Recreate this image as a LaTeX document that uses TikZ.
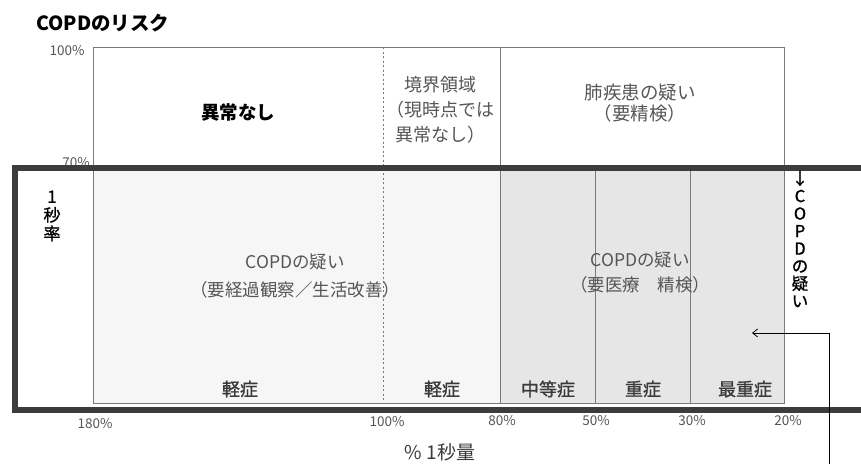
\documentclass[tikz,border=0pt]{standalone}
\usepackage{fontspec}
\setmainfont{Noto Sans CJK JP}
\newfontfamily\medfont{Noto Sans CJK JP}[FakeBold=1.2]
\usetikzlibrary{arrows.meta}
\definecolor{gridc}{HTML}{7A7A7A}
\definecolor{txtg}{HTML}{555555}
\definecolor{txtd}{HTML}{3A3A3A}
\definecolor{thickc}{HTML}{3C3C3C}
\definecolor{shadeR}{HTML}{E6E6E6}
\definecolor{shadeL}{HTML}{F6F6F6}
\tikzset{
  gridline/.style={draw=gridc, line width=0.9pt},
  dashline/.style={draw=gridc, line width=0.9pt, dash pattern=on 2pt off 2.5pt},
  lab/.style={text=txtg, font=\fontsize{18}{22}\selectfont, align=center, inner sep=0pt},
  sev/.style={text=txtd, font=\medfont\fontsize{18}{20}\selectfont, inner sep=0pt},
  axl/.style={text=txtg, font=\fontsize{13.5}{15}\selectfont, inner sep=0pt},
  boldlab/.style={text=black, font=\fontsize{18.5}{20}\selectfont\bfseries, inner sep=0pt},
  vtext/.style={text=black, align=center, inner sep=0pt},
  conn/.style={draw=black, line width=0.8pt, -{Straight Barb[length=5pt,width=8pt]}},
}
\begin{document}
\begin{tikzpicture}[x=1pt,y=-1pt]
\useasboundingbox (0,0) rectangle (861,463);
\clip (0,0) rectangle (861,463);
% shading
\fill[shadeL] (93,168) rectangle (500,403);
\fill[shadeR] (500,168) rectangle (784,403);
% chart frame
\draw[gridline] (93,47) rectangle (784,403);
\draw[dashline] (383,47) -- (383,403);
\draw[gridline] (500,47) -- (500,403);
\draw[gridline] (595,168) -- (595,403);
\draw[gridline] (690,168) -- (690,403);
% y labels
\node[axl] (y100) at (67,51) {100\%};
\node[axl] (y70) at (76,163) {70\%};
% thick box
\draw[draw=thickc, line width=6.5pt] (880,168) -- (15,168) -- (15,410) -- (880,410);
% title
\node[text=black, font=\fontsize{19.5}{22}\selectfont\bfseries, anchor=west, inner sep=0pt] (title) at (36,23) {COPDのリスク};
% top region labels
\node[boldlab] (normal) at (238,112) {異常なし};
\node[lab, font=\fontsize{18}{25}\selectfont] (border) at (440,110) {境界領域\\（現時点では\\異常なし）};
\node[lab, font=\fontsize{18.5}{21}\selectfont] (lungsusp) at (640,103) {肺疾患の疑い\\（要精検）};
% lower region labels
\node[lab, font=\fontsize{17.5}{28}\selectfont] (copdL) at (295,276) {COPDの疑い\\（要経過観察／生活改善）};
\node[lab, font=\fontsize{17.5}{25}\selectfont] (copdR) at (640,273) {COPDの疑い\\（要医療　精検）};
% severity labels
\node[sev] (s1) at (240,389) {軽症};
\node[sev] (s2) at (442,389) {軽症};
\node[sev] (s3) at (548,389) {中等症};
\node[sev] (s4) at (643,389) {重症};
\node[sev] (s5) at (745,389) {最重症};
% x axis labels
\node[axl] (x180) at (95,424) {180\%};
\node[axl] (x100) at (387,422) {100\%};
\node[axl] (x80) at (502,421) {80\%};
\node[axl] (x50) at (596,421) {50\%};
\node[axl] (x30) at (692,421) {30\%};
\node[axl] (x20) at (788,421) {20\%};
\node[text=txtd, font=\fontsize{19}{20}\selectfont, inner sep=0pt] (xtitle) at (440,452) {\% 1秒量};
% y axis title
\node[vtext, font=\medfont\fontsize{17}{18.5}\selectfont] (ytitle) at (52,216) {1\\秒\\率};
% right vertical text
\node[vtext, font=\medfont\fontsize{16.5}{17.5}\selectfont] (copdv) at (800,239) {↓\\C\\O\\P\\D\\の\\疑\\い};
% connector
\coordinate (cfoot) at (829,470);
\coordinate (ctip) at (752,333);
\draw[conn] (cfoot) |- (ctip);
\end{tikzpicture}
\end{document}
